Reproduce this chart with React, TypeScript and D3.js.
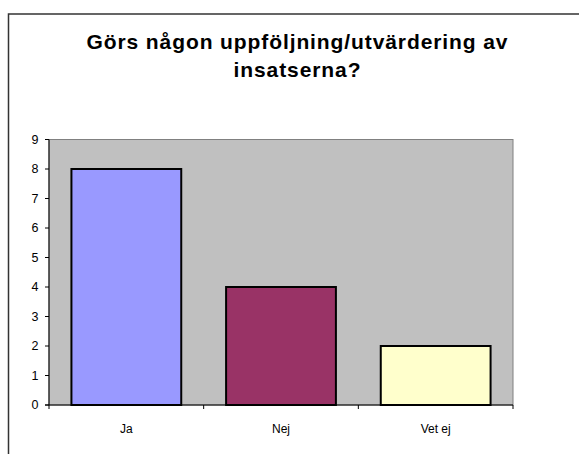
import React from "react";
import * as d3 from "d3";

const categories = ["Ja", "Nej", "Vet ej"];
const values = [8, 4, 2];
const barColors = ["#9999FF", "#993366", "#FFFFCC"];
const yTicks = [0, 1, 2, 3, 4, 5, 6, 7, 8, 9];
const titleLines = ["Görs någon uppföljning/utvärdering av", "insatserna?"];

const W = 579;
const H = 454;
const plot = { left: 49, right: 513, top: 139.5, bottom: 405 };

export default function App() {
  const x = d3
    .scaleBand<string>()
    .domain(categories)
    .range([plot.left, plot.right])
    .paddingInner(0.29)
    .paddingOuter(0.145);
  const xCat = d3.scaleBand<string>().domain(categories).range([plot.left, plot.right]).padding(0);
  const y = d3.scaleLinear().domain([0, 9]).range([plot.bottom, plot.top]);
  const font = "'Liberation Sans', Arial, sans-serif";
  const boundaries = [...categories.map((c) => xCat(c) as number), plot.right];

  return (
    <svg
      width={W}
      height={H}
      style={{ position: "absolute", left: 0, top: 0, background: "#fff" }}
      fontFamily={font}
    >
      <rect x={0} y={0} width={W} height={H} fill="#fff" />
      <rect x={8.5} y={14} width={W + 20} height={H + 20} fill="none" stroke="#333" strokeWidth={1.5} />
      <text x={297} y={49} textAnchor="middle" fontSize={21} fontWeight="bold" textLength={421} lengthAdjust="spacing">
        {titleLines[0]}
      </text>
      <text x={297} y={77} textAnchor="middle" fontSize={21} fontWeight="bold" textLength={127} lengthAdjust="spacing">
        {titleLines[1]}
      </text>
      <rect
        x={plot.left}
        y={plot.top}
        width={plot.right - plot.left}
        height={plot.bottom - plot.top}
        fill="#C0C0C0"
        stroke="#808080"
        strokeWidth={1}
      />
      {categories.map((c, i) => (
        <rect
          key={c}
          x={x(c)}
          y={y(values[i])}
          width={x.bandwidth()}
          height={y(0) - y(values[i])}
          fill={barColors[i]}
          stroke="#000"
          strokeWidth={2}
        />
      ))}
      <line x1={plot.left} x2={plot.left} y1={plot.top} y2={plot.bottom} stroke="#000" strokeWidth={1} />
      <line x1={plot.left - 4} x2={plot.right} y1={plot.bottom} y2={plot.bottom} stroke="#000" strokeWidth={1} />
      {yTicks.map((t) => (
        <g key={t}>
          <line x1={plot.left - 4} x2={plot.left} y1={y(t)} y2={y(t)} stroke="#000" strokeWidth={1} />
          <text x={38.5} y={y(t) + 4.3} textAnchor="end" fontSize={12.5} fill="#000">
            {t}
          </text>
        </g>
      ))}
      {boundaries.map((b, i) => (
        <line key={i} x1={b} x2={b} y1={plot.bottom} y2={plot.bottom + 4} stroke="#000" strokeWidth={1} />
      ))}
      {categories.map((c) => (
        <text
          key={c}
          x={(xCat(c) as number) + xCat.bandwidth() / 2}
          y={433}
          textAnchor="middle"
          fontSize={12}
          fill="#000"
        >
          {c}
        </text>
      ))}
    </svg>
  );
}
